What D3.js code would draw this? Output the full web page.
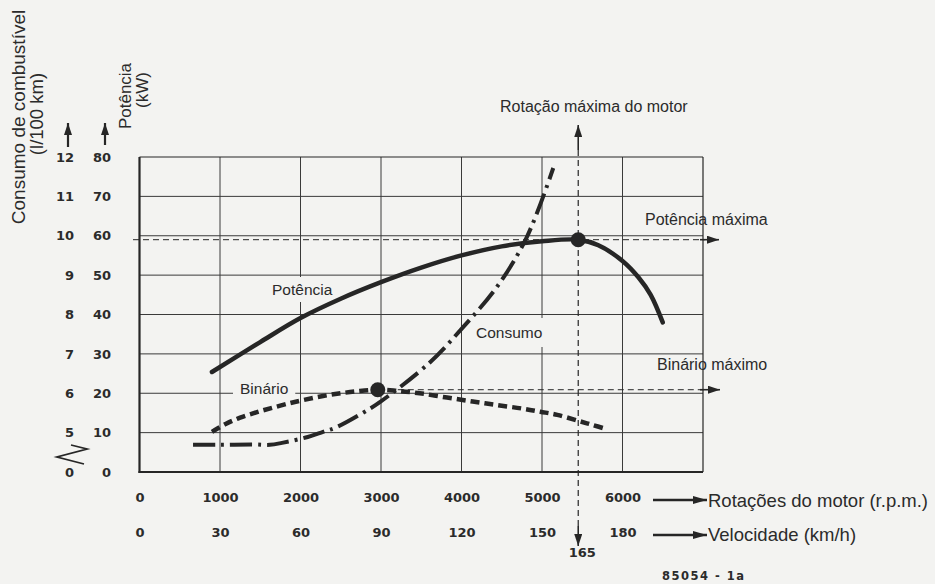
<!DOCTYPE html>
<html>
<head>
<meta charset="utf-8">
<script src="https://cdn.jsdelivr.net/npm/d3@7"></script>
<style>
  html, body { margin: 0; padding: 0; background: #f3f3f1; }
  svg { display: block; }
  .lbl { font-family: "Liberation Sans", Arial, Helvetica, sans-serif; fill: #2b2b2b; }
  .num { font-family: "DejaVu Sans", Verdana, sans-serif; font-weight: bold; fill: #2b2b2b; }
</style>
</head>
<body>
<svg id="chart" width="935" height="584"></svg>
<script>
// Engine characteristic curves: power, torque and fuel consumption vs engine speed

// rpm axis and vehicle speed axis (km/h) tick labels
const rpmTicks = [0, 1000, 2000, 3000, 4000, 5000, 6000];
const speedTicks = [0, 30, 60, 90, 120, 150, 180];
const kwTicks = [0, 10, 20, 30, 40, 50, 60, 70, 80];
const consumoTicks = [5, 6, 7, 8, 9, 10, 11, 12];

// Potência (kW) vs rpm
const potenciaRpm = [900, 1500, 2000, 2500, 3000, 3500, 4000, 4500, 5000, 5450, 5700, 6000, 6200, 6350, 6500];
const potenciaKw  = [25.4, 33.0, 39.1, 44.0, 48.2, 51.9, 55.0, 57.3, 58.6, 59.0, 57.6, 53.6, 49.4, 45.0, 38.0];

// Binário (torque, drawn on the power scale) vs rpm
const binarioRpm = [900, 1070, 1250, 1460, 1650, 1870, 2040, 2280, 2500, 2700, 2960, 3200, 3480, 3820, 4140, 4440, 4760, 4980, 5190, 5450, 5620, 5800];
const binarioVal = [10.2, 12.2, 13.8, 15.2, 16.3, 17.5, 18.3, 19.3, 20.0, 20.5, 20.9, 20.6, 20.0, 18.9, 17.9, 17.0, 16.1, 15.3, 14.5, 13.0, 12.0, 10.9];

// Consumo (l/100 km) vs rpm
const consumoRpm = [665, 1000, 1400, 1620, 1770, 2090, 2280, 2450, 2830, 2990, 3600, 4020, 4440, 4810, 5140];
const consumoVal = [4.69, 4.69, 4.70, 4.69, 4.74, 4.89, 5.02, 5.14, 5.57, 5.78, 6.77, 7.68, 8.70, 9.96, 11.72];

// Notable points
const rotacaoMaxRpm = 5450;
const rotacaoMaxSpeed = 165;
const potenciaMax = { rpm: 5450, kw: 59.0 };
const binarioMax = { rpm: 2960, val: 20.9 };

const svg = d3.select("#chart");
const ink = "#262626";
const paper = "#f3f3f1";

const x = d3.scaleLinear().domain([0, 7000]).range([139.5, 703]);
const xSpeed = d3.scaleLinear().domain([0, 210]).range([139.5, 703]);
const y = d3.scaleLinear().domain([0, 80]).range([472, 157]);
const yC = d3.scaleLinear().domain([5, 12]).range([y(10), y(80)]);

const defs = svg.append("defs");
defs.append("marker")
  .attr("id", "head").attr("viewBox", "0 0 14 8").attr("refX", 14).attr("refY", 4)
  .attr("markerUnits", "userSpaceOnUse").attr("markerWidth", 14).attr("markerHeight", 8)
  .attr("orient", "auto")
  .append("path").attr("d", "M0,0 L14,4 L0,8 Z").attr("fill", ink);
defs.append("marker")
  .attr("id", "headSmall").attr("viewBox", "0 0 12 8").attr("refX", 12).attr("refY", 4)
  .attr("markerUnits", "userSpaceOnUse").attr("markerWidth", 12).attr("markerHeight", 8)
  .attr("orient", "auto")
  .append("path").attr("d", "M0,0 L12,4 L0,8 Z").attr("fill", ink);

// ---- grid ----
const grid = svg.append("g");
const xMax = 7000, yMax = 80;
grid.selectAll("line.v").data(d3.range(1000, 7000, 1000)).join("line")
  .attr("x1", d => x(d)).attr("x2", d => x(d)).attr("y1", y(0)).attr("y2", y(yMax))
  .attr("stroke", "#3a3a3a").attr("stroke-width", 1);
grid.selectAll("line.h").data(d3.range(10, 80, 10)).join("line")
  .attr("x1", x(0)).attr("x2", x(xMax)).attr("y1", d => y(d)).attr("y2", d => y(d))
  .attr("stroke", "#3a3a3a").attr("stroke-width", 1);
// frame: top and right thin, left and bottom heavier
grid.append("line").attr("x1", x(0)).attr("x2", x(xMax)).attr("y1", y(yMax)).attr("y2", y(yMax)).attr("stroke", ink).attr("stroke-width", 1.2);
grid.append("line").attr("x1", x(xMax)).attr("x2", x(xMax)).attr("y1", y(0)).attr("y2", y(yMax)).attr("stroke", ink).attr("stroke-width", 1.2);
grid.append("line").attr("x1", x(0)).attr("x2", x(0)).attr("y1", y(0) + 1).attr("y2", y(yMax)).attr("stroke", ink).attr("stroke-width", 2.2);
grid.append("line").attr("x1", x(0) - 1).attr("x2", x(xMax)).attr("y1", y(0)).attr("y2", y(0)).attr("stroke", ink).attr("stroke-width", 2.2);

// ---- curve labels with paper-coloured boxes that break the grid ----
function boxedLabel(text, px, py, padX, padY) {
  const g = svg.append("g");
  const t = g.append("text").attr("class", "lbl").attr("x", px).attr("y", py)
    .attr("font-size", 15.5).text(text);
  const b = t.node().getBBox();
  g.insert("rect", "text").attr("x", b.x - padX).attr("y", b.y - padY)
    .attr("width", b.width + 2 * padX).attr("height", b.height + 2 * padY)
    .attr("fill", paper);
}
boxedLabel("Potência", 272, 295, 5, 4);
boxedLabel("Binário", 240, 394, 7, 0);
boxedLabel("Consumo", 476, 338, 6, 6);

// ---- reference lines ----
const ref = svg.append("g").attr("stroke", ink).attr("fill", "none");
// maximum power horizontal
ref.append("line").attr("x1", 133).attr("x2", 705).attr("y1", y(potenciaMax.kw)).attr("y2", y(potenciaMax.kw))
  .attr("stroke-width", 1).attr("stroke-dasharray", "6,4");
ref.append("line").attr("x1", 700).attr("x2", 719).attr("y1", y(potenciaMax.kw)).attr("y2", y(potenciaMax.kw))
  .attr("stroke-width", 1.6).attr("marker-end", "url(#headSmall)");
// maximum torque horizontal
ref.append("line").attr("x1", x(binarioMax.rpm)).attr("x2", 705).attr("y1", y(binarioMax.val)).attr("y2", y(binarioMax.val))
  .attr("stroke-width", 1).attr("stroke-dasharray", "6,4");
ref.append("line").attr("x1", 700).attr("x2", 720).attr("y1", y(binarioMax.val)).attr("y2", y(binarioMax.val))
  .attr("stroke-width", 1.6).attr("marker-end", "url(#headSmall)");
// maximum engine speed vertical
const xr = x(rotacaoMaxRpm);
ref.append("line").attr("x1", xr).attr("x2", xr).attr("y1", 150).attr("y2", 125)
  .attr("stroke-width", 1.6).attr("marker-end", "url(#headSmall)");
ref.append("line").attr("x1", xr).attr("x2", xr).attr("y1", 150).attr("y2", 530)
  .attr("stroke-width", 1.2).attr("stroke-dasharray", "6,4");
ref.append("line").attr("x1", xr).attr("x2", xr).attr("y1", 526).attr("y2", 546)
  .attr("stroke-width", 1.6).attr("marker-end", "url(#headSmall)");

// ---- curves ----
const line = d3.line().curve(d3.curveCatmullRom.alpha(0.5));
const potPts = potenciaRpm.map((r, i) => [x(r), y(potenciaKw[i])]);
const binPts = binarioRpm.map((r, i) => [x(r), y(binarioVal[i])]);
const conPts = consumoRpm.map((r, i) => [x(r), yC(consumoVal[i])]);

svg.append("path").attr("d", line(conPts)).attr("fill", "none").attr("stroke", ink)
  .attr("stroke-width", 4).attr("stroke-dasharray", "22,6,3,6");
svg.append("path").attr("d", line(binPts)).attr("fill", "none").attr("stroke", ink)
  .attr("stroke-width", 4.5).attr("stroke-dasharray", "9,5");
svg.append("path").attr("d", line(potPts)).attr("fill", "none").attr("stroke", ink)
  .attr("stroke-width", 4.5).attr("stroke-linecap", "round");

svg.append("circle").attr("cx", x(potenciaMax.rpm)).attr("cy", y(potenciaMax.kw)).attr("r", 7.5).attr("fill", ink);
svg.append("circle").attr("cx", x(binarioMax.rpm)).attr("cy", y(binarioMax.val)).attr("r", 7.5).attr("fill", ink);

// ---- annotations ----
svg.append("text").attr("class", "lbl").attr("x", 500).attr("y", 112).attr("font-size", 16).text("Rotação máxima do motor");
svg.append("text").attr("class", "lbl").attr("x", 645).attr("y", 225).attr("font-size", 16).text("Potência máxima");
svg.append("text").attr("class", "lbl").attr("x", 657).attr("y", 370).attr("font-size", 16).text("Binário máximo");

// ---- left axes ----
const axKw = svg.append("g").attr("transform", "translate(111,0)")
  .call(d3.axisLeft(y).tickValues(kwTicks).tickSize(0).tickPadding(0).tickFormat(d3.format("d")));
const axC = svg.append("g").attr("transform", "translate(74,0)")
  .call(d3.axisLeft(yC).tickValues(consumoTicks).tickSize(0).tickPadding(0).tickFormat(d3.format("d")));
// consumption origin below the axis break
svg.append("text").attr("class", "num").attr("x", 74).attr("y", y(0)).attr("dy", "0.35em")
  .attr("text-anchor", "end").attr("font-size", 13).text("0");
// axis break mark
svg.append("path").attr("d", "M71,445 L87,449 L57,457 L84,464").attr("fill", "none")
  .attr("stroke", ink).attr("stroke-width", 1.8);

// ---- bottom axes ----
const axR = svg.append("g").attr("transform", "translate(0,493)")
  .call(d3.axisBottom(x).tickValues(rpmTicks).tickSize(0).tickPadding(0).tickFormat(d3.format("d")));
const axV = svg.append("g").attr("transform", "translate(0,528)")
  .call(d3.axisBottom(xSpeed).tickValues(speedTicks).tickSize(0).tickPadding(0).tickFormat(d3.format("d")));
svg.append("text").attr("class", "num").attr("x", xSpeed(rotacaoMaxSpeed)).attr("y", 557)
  .attr("text-anchor", "middle").attr("font-size", 13).text(String(rotacaoMaxSpeed));

[axKw, axC, axR, axV].forEach(a => {
  a.select(".domain").remove();
  a.selectAll("text").attr("class", "num").attr("font-size", 13).attr("fill", "#2b2b2b")
    .style("font-family", "'DejaVu Sans', Verdana, sans-serif").style("font-weight", "bold");
});
axR.selectAll("text").attr("dy", "0.71em");
axV.selectAll("text").attr("dy", "0.71em");

// bottom axis titles with arrows
svg.append("line").attr("x1", 653).attr("x2", 707).attr("y1", 500).attr("y2", 500)
  .attr("stroke", ink).attr("stroke-width", 2.6).attr("marker-end", "url(#head)");
svg.append("line").attr("x1", 653).attr("x2", 707).attr("y1", 535).attr("y2", 535)
  .attr("stroke", ink).attr("stroke-width", 2.6).attr("marker-end", "url(#head)");
svg.append("text").attr("class", "lbl").attr("x", 708).attr("y", 507).attr("font-size", 18.5).text("Rotações do motor (r.p.m.)");
svg.append("text").attr("class", "lbl").attr("x", 708).attr("y", 541).attr("font-size", 18.5).text("Velocidade (km/h)");

// figure reference number
svg.append("text").attr("class", "num").attr("x", 662).attr("y", 580).attr("font-size", 11.5)
  .attr("letter-spacing", 1.5).text("85054 - 1a");

// ---- left axis titles with arrows ----
svg.append("text").attr("class", "lbl").attr("transform", "translate(25,117) rotate(-90)")
  .attr("text-anchor", "middle").attr("font-size", 19).text("Consumo de combustível");
svg.append("text").attr("class", "lbl").attr("transform", "translate(43,114) rotate(-90)")
  .attr("text-anchor", "middle").attr("font-size", 18.5).text("(l/100 km)");
svg.append("text").attr("class", "lbl").attr("transform", "translate(131,96) rotate(-90)")
  .attr("text-anchor", "middle").attr("font-size", 17).text("Potência");
svg.append("text").attr("class", "lbl").attr("transform", "translate(148,90) rotate(-90)")
  .attr("text-anchor", "middle").attr("font-size", 17).text("(kW)");
svg.append("line").attr("x1", 68).attr("x2", 68).attr("y1", 147).attr("y2", 123)
  .attr("stroke", ink).attr("stroke-width", 2.2).attr("marker-end", "url(#headSmall)");
svg.append("line").attr("x1", 105).attr("x2", 105).attr("y1", 145).attr("y2", 123)
  .attr("stroke", ink).attr("stroke-width", 2.2).attr("marker-end", "url(#headSmall)");
</script>
</body>
</html>
